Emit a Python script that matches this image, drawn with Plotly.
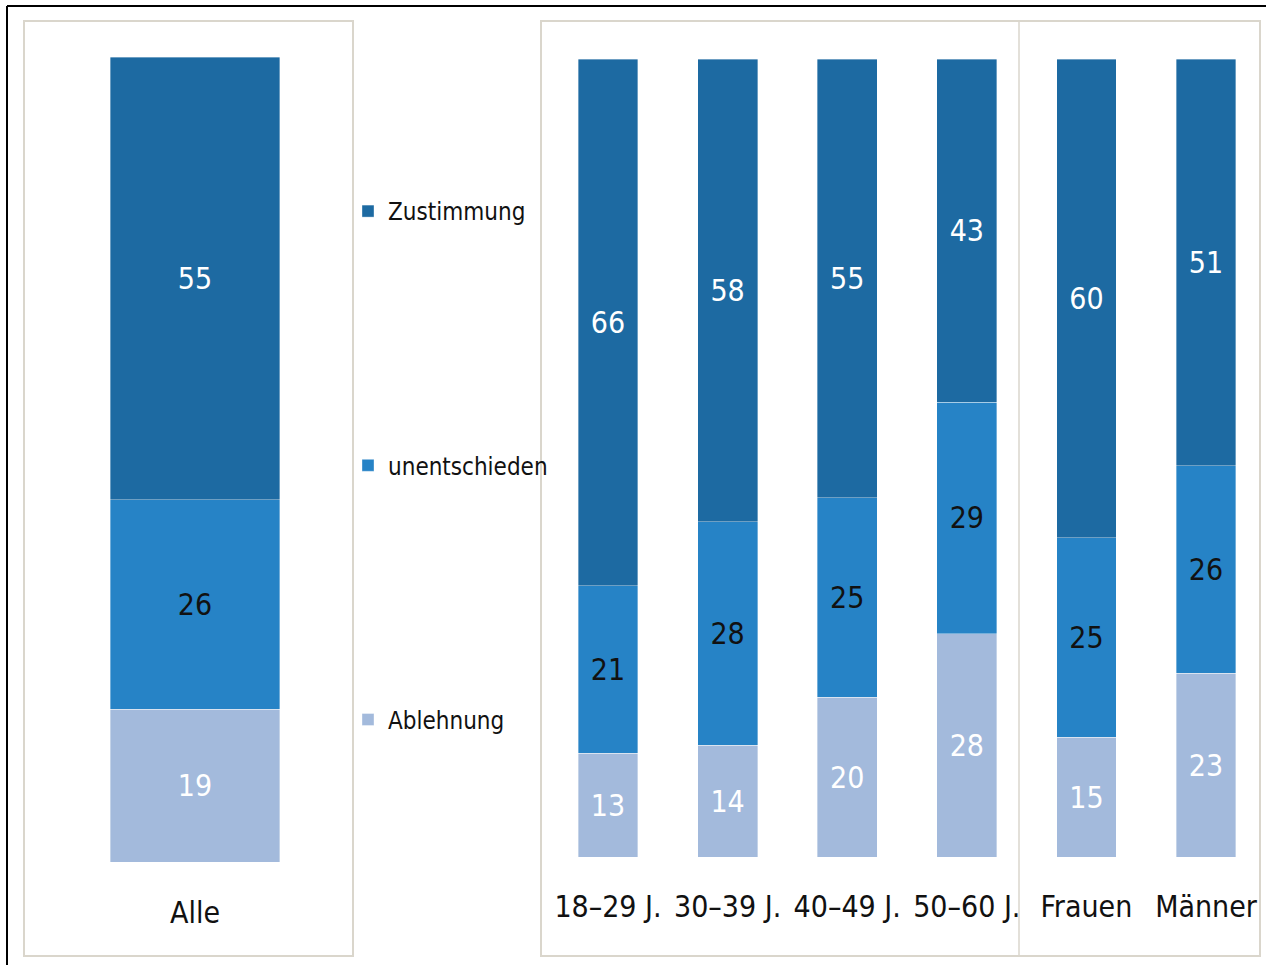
import plotly.graph_objects as go

W, H = 1266, 965

# ---- data ----
left_categories = ["Alle"]
left_zustimmung = [55]
left_unentschieden = [26]
left_ablehnung = [19]

right_categories = ["18–29 J.", "30–39 J.", "40–49 J.", "50–60 J.", "Frauen", "Männer"]
right_zustimmung = [66, 58, 55, 43, 60, 51]
right_unentschieden = [21, 28, 25, 29, 25, 26]
right_ablehnung = [13, 14, 20, 28, 15, 23]

series_names = ["Ablehnung", "unentschieden", "Zustimmung"]

# ---- styles ----
FONT = "DejaVu Sans Condensed, Liberation Sans Narrow, Roboto, sans-serif"
C_DARK = "#1D6AA2"
C_MID = "#2683C6"
C_LIGHT = "#A3BADC"
colors = {"Zustimmung": C_DARK, "unentschieden": C_MID, "Ablehnung": C_LIGHT}
txtcol = {"Zustimmung": "white", "unentschieden": "#111111", "Ablehnung": "white"}
rank = {"Zustimmung": 1, "unentschieden": 2, "Ablehnung": 3}

def px(x):
    return x / W

def py(y):
    return 1 - y / H

fig = go.Figure()

left_vals = {"Zustimmung": left_zustimmung, "unentschieden": left_unentschieden, "Ablehnung": left_ablehnung}
right_vals = {"Zustimmung": right_zustimmung, "unentschieden": right_unentschieden, "Ablehnung": right_ablehnung}

for name in series_names:
    fig.add_trace(go.Bar(
        x=left_categories, y=left_vals[name], name=name,
        xaxis="x", yaxis="y", width=0.515,
        marker=dict(color=colors[name], line=dict(width=0.6, color="rgba(255,255,255,0.6)")),
        text=[str(v) for v in left_vals[name]], textposition="inside",
        insidetextanchor="middle", constraintext="none",
        textfont=dict(family=FONT, size=30, color=txtcol[name]),
        legendgroup=name, legendrank=rank[name], showlegend=True, hoverinfo="skip",
    ))
    fig.add_trace(go.Bar(
        x=right_categories, y=right_vals[name], name=name,
        xaxis="x2", yaxis="y2", width=0.5,
        marker=dict(color=colors[name], line=dict(width=0.6, color="rgba(255,255,255,0.6)")),
        text=[str(v) for v in right_vals[name]], textposition="inside",
        insidetextanchor="middle", constraintext="none",
        textfont=dict(family=FONT, size=30, color=txtcol[name]),
        legendgroup=name, legendrank=rank[name], showlegend=False, hoverinfo="skip",
    ))

axis_common = dict(showgrid=False, zeroline=False, showline=False, ticks="",
                   tickfont=dict(family=FONT, size=30, color="#111111"))

fig.update_layout(
    width=W, height=H,
    margin=dict(l=0, r=0, t=0, b=0),
    paper_bgcolor="white", plot_bgcolor="rgba(0,0,0,0)",
    barmode="stack",
    showlegend=True,
    legend=dict(
        x=px(348), y=py(189), xanchor="left", yanchor="top",
        traceorder="grouped", tracegroupgap=220,
        font=dict(family=FONT, size=24, color="#111111"),
        itemwidth=30, bgcolor="rgba(0,0,0,0)",
    ),
    xaxis=dict(domain=[px(195 - 165), px(195 + 165)], anchor="y",
               ticklabelstandoff=30, **axis_common),
    yaxis=dict(domain=[py(862), py(57)], range=[0, 100], visible=False, anchor="x"),
    xaxis2=dict(domain=[px(548.2), px(1265.8)], anchor="y2",
                ticklabelstandoff=29, **axis_common),
    yaxis2=dict(domain=[py(857), py(59)], range=[0, 100], visible=False, anchor="x2"),
)

border = "#DAD6CC"
shapes = [
    # outer black frame (left and top edges visible)
    dict(type="line", xref="paper", yref="paper", x0=px(7), x1=px(7), y0=py(6), y1=0,
         line=dict(color="black", width=2)),
    dict(type="line", xref="paper", yref="paper", x0=px(7), x1=1, y0=py(6), y1=py(6),
         line=dict(color="black", width=2)),
    # left panel
    dict(type="rect", xref="paper", yref="paper", x0=px(24), x1=px(353), y0=py(956), y1=py(21),
         line=dict(color=border, width=2)),
    # right panel
    dict(type="rect", xref="paper", yref="paper", x0=px(541), x1=px(1260), y0=py(956), y1=py(21),
         line=dict(color=border, width=2)),
    # divider
    dict(type="line", xref="paper", yref="paper", x0=px(1019), x1=px(1019), y0=py(956), y1=py(21),
         line=dict(color=border, width=1.5)),
]
fig.update_layout(shapes=shapes)

fig.write_html("out.html", config={"displayModeBar": False},
               post_script="document.body.style.margin='0';document.body.style.overflow='hidden';")
